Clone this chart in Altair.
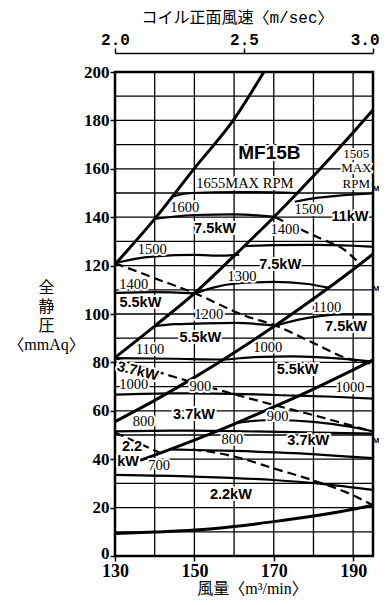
import altair as alt
import pandas as pd

# ---------------- axes / grid ----------------
X_DOMAIN = [130, 195]
Y_DOMAIN = [0, 200]
X_TICKS = [130, 150, 170, 190]
Y_TICKS = [0, 20, 40, 60, 80, 100, 120, 140, 160, 180, 200]
GRID_X = [130, 140, 150, 160, 170, 180, 190]
GRID_Y = [0, 10, 20, 30, 40, 50, 60, 70, 80, 90, 100, 110, 120, 130, 140, 150, 160, 170, 180, 190, 200]
TOP_DOMAIN = [2.0, 3.0]
TOP_TICKS = [2.0, 2.5, 3.0]

# ---------------- system resistance curves (thick) ----------------
SYS_A = [(130, 120.5), (140, 139.3), (150, 160.2), (160, 180.5), (167.5, 200)]
SYS_B = [(130, 82), (140, 95), (150, 108.5), (160, 124), (170, 140), (180, 157), (190, 175), (195, 184.3)]
SYS_C = [(130, 55.5), (140, 64.3), (150, 73.8), (160, 84), (170, 94.8), (180, 106.3), (190, 118.4), (195, 124.8)]
SYS_D = [(136.3, 39.5), (140, 41.7), (150, 47.9), (160, 54.5), (170, 61.6), (180, 69), (190, 76.9), (195, 81)]
SYS_F = [(130, 9.3), (140, 9.9), (150, 10.7), (160, 12.2), (170, 14.2), (180, 16.5), (190, 19.3), (195, 21)]

# ---------------- fan speed curves (solid) ----------------
RPM_1655 = [(144.7, 148.6), (148, 149.8), (155, 150.3), (165, 150.4), (175.8, 150)]
RPM_1505 = [(175.3, 146.4), (180, 147.8), (187, 149), (195, 149.8)]
RPM_1600 = [(140, 139.3), (145, 140.3), (150, 140.9), (160, 141.2), (170.3, 140.1)]
RPM_1500L = [(130, 121), (135, 122.8), (140, 123.8), (150, 124.4), (157, 124.1), (161.3, 124.5)]
RPM_1400R = [(162.5, 128), (170, 128.5), (180, 128.6), (190, 128.2), (195, 127.8)]
RPM_1400L = [(130, 108.7), (140, 109), (150.2, 108.5)]
RPM_1300 = [(150.2, 108.5), (155, 111), (160, 112.5), (170, 113.3), (178, 112.5), (184, 110.8)]
RPM_1200 = [(140, 95), (145, 95.8), (150, 96), (160, 96.3), (170.5, 95.2)]
RPM_1100R = [(170.5, 95.2), (176, 97.6), (182, 99.2), (188, 99.8), (195, 99.8)]
RPM_1100 = [(130, 81.8), (145, 81.5), (157, 81.2), (165, 82.2), (175, 82.5), (185, 81.8), (195, 80.3)]
RPM_1000 = [(130, 66.7), (145, 67.2), (160, 67), (175, 66.3), (185, 65.8), (195, 65)]
RPM_900R = [(160.7, 55), (165, 55.8), (170, 56.2), (180, 55.4), (190, 53.2), (195, 51.5)]
RPM_800L = [(130, 51.5), (145, 51.8), (160, 51.6), (175, 51.2), (195, 50.6)]
RPM_800R = [(143.7, 44), (150, 43.8), (160, 43.4), (175, 42.5), (185, 41.5), (195, 40.4)]
RPM_700 = [(130, 33.5), (150, 32.8), (170, 31.4), (182, 29.8), (195, 27.3)]

# ---------------- motor power limits (dashed) ----------------
PW_1 = [(130, 121), (140, 114.8), (150.2, 108.5), (162.7, 99.3), (170.5, 95.2), (180, 88), (188.8, 81.5), (194.5, 79.5)]
PW_2 = [(170.3, 140), (176.2, 135.4), (182, 131), (187.9, 126.4), (191.5, 121)]
PW_3 = [(130, 81.8), (140, 76.5), (148, 72.5), (156, 68.7), (163, 65.5), (171, 62), (180, 58.2), (188, 54.6), (195, 51.4)]
PW_4A = [(130, 51), (135.5, 47), (141.5, 42.5)]
PW_4B = [(149.5, 44), (155, 42.8), (160.3, 41), (170.4, 36), (181.3, 30.5), (188, 26.5), (195, 21)]

# ---------------- labels ----------------
NUM_TEXT = ["1655MAX RPM", "1600", "1500", "1400", "1300", "1200", "1100", "1000", "1100",
            "1500", "1400", "1000", "900", "1000", "800", "900", "800", "700"]
NUM_X = [162.7, 147.6, 139.4, 134.7, 162, 153.6, 138.8, 168.5, 183.4,
         178.9, 172.8, 134.7, 151.5, 189.2, 137.2, 171, 159.6, 141.1]
NUM_Y = [153.7, 143.7, 126.4, 112, 115.4, 99.6, 85.1, 86, 102.5,
         143, 134.7, 70.5, 70, 69.4, 55.5, 57.6, 48, 37]

MAXRPM_TEXT = ["1505", "MAX", "RPM"]
MAXRPM_X = [190.8, 190.8, 190.8]
MAXRPM_Y = [166.1, 160.2, 153.9]

KW_TEXT = ["7.5kW", "11kW", "7.5kW", "5.5kW", "5.5kW", "7.5kW", "3.7kW", "5.5kW",
           "3.7kW", "3.7kW", "2.2", "kW", "2.2kW"]
KW_X = [155.2, 189.2, 171.6, 136.4, 151.5, 188.2, 135.7, 176, 149.9, 178.7, 134.3, 133.3, 159.2]
KW_Y = [135, 140, 120.2, 104.4, 90, 94.6, 76.2, 76.9, 58.3, 47.5, 45, 39, 25.2]
KW_ANGLE = [0, 0, 0, 0, 0, 0, 14, 0, 0, 0, 0, 0, 0]

MODEL_TEXT = ["MF15B"]
MODEL_X = [168.9]
MODEL_Y = [166.4]

EDGE_TEXT = ["M", "M", "M"]
EDGE_X = [196.6, 196.6, 196.6]
EDGE_Y = [151.5, 110.5, 47.5]

SERIF = "Liberation Serif"
SANS = "Liberation Sans"
MONO = "Liberation Mono"
JP_SERIF = "Liberation Serif, Noto Sans CJK JP"
JP_MONO = "Liberation Mono, Noto Sans CJK JP"


def curves_df(named):
    rows = []
    for name, pts in named.items():
        for i, (x, y) in enumerate(pts):
            rows.append({"name": name, "i": i, "x": x, "y": y})
    return pd.DataFrame(rows)


sys_df = curves_df({"A": SYS_A, "B": SYS_B, "C": SYS_C, "D": SYS_D, "F": SYS_F})
rpm_df = curves_df({"r1655": RPM_1655, "r1505": RPM_1505, "r1600": RPM_1600, "r1500L": RPM_1500L,
                    "r1400R": RPM_1400R, "r1400L": RPM_1400L, "r1300": RPM_1300, "r1200": RPM_1200,
                    "r1100R": RPM_1100R, "r1100": RPM_1100, "r1000": RPM_1000, "r900R": RPM_900R,
                    "r800L": RPM_800L, "r800R": RPM_800R, "r700": RPM_700})
pw_df = curves_df({"p1": PW_1, "p2": PW_2, "p3": PW_3, "p4a": PW_4A, "p4b": PW_4B})

xs = alt.Scale(domain=X_DOMAIN, nice=False, zero=False)
ys = alt.Scale(domain=Y_DOMAIN, nice=False, zero=False)

X_AXIS = alt.Axis(
    orient="bottom", values=X_TICKS, grid=False, domain=False, labelFlush=False,
    tickColor="black", tickSize=5, tickWidth=1.5, labelPadding=1,
    labelFont=SERIF, labelFontSize=18, labelFontWeight="bold", labelColor="black",
    title="風量〈m³/min〉", titleFont=JP_SERIF, titleFontSize=16, titleFontWeight="normal",
    titleColor="black", titleX=137, titleY=32, titleBaseline="middle", titleAlign="center")

Y_AXIS = alt.Axis(
    orient="left", values=Y_TICKS, grid=False, domain=False, labelFlush=False,
    tickColor="black", tickSize=5, tickWidth=1.5, labelPadding=1,
    labelOffset={"condition": {"test": "datum.value == 0", "value": -3}, "value": 0},
    labelFont=SERIF, labelFontSize=17, labelFontWeight="bold", labelColor="black",
    title=["全", "静", "圧", "〈mmAq〉"], titleFont=JP_SERIF, titleFontSize=16,
    titleFontWeight="normal", titleColor="black", titleAngle=0, titleAlign="center",
    titleBaseline="top", titleX=-69, titleY=207, titleLineHeight=19)


def X(field):
    return alt.X(field, scale=xs, axis=X_AXIS)


def Y(field):
    return alt.Y(field, scale=ys, axis=Y_AXIS)


grid_v = alt.Chart(pd.DataFrame({"x": GRID_X})).mark_rule(color="black", strokeWidth=1.3).encode(
    x=X("x:Q"))
grid_h = alt.Chart(pd.DataFrame({"y": GRID_Y})).mark_rule(color="black", strokeWidth=1.3).encode(
    y=Y("y:Q"))


def line_layer(df, width, dash=None):
    kw = dict(interpolate="monotone", color="black", strokeWidth=width)
    if dash:
        kw["strokeDash"] = dash
    return alt.Chart(df).mark_line(**kw).encode(
        x=X("x:Q"), y=Y("y:Q"), detail="name:N", order="i:Q")


def text_layers(texts, xv, yv, font, size, weight, angles=None, align="center", halo=True):
    df = pd.DataFrame({"t": texts, "x": xv, "y": yv,
                       "a": angles if angles is not None else [0] * len(texts)})
    base = alt.Chart(df).encode(
        x=X("x:Q"), y=Y("y:Q"), text="t:N", angle=alt.Angle("a:Q", scale=None))
    out = []
    if halo:
        out.append(base.mark_text(font=font, fontSize=size, fontWeight=weight, align=align,
                                  fill="white", stroke="white", strokeWidth=4, strokeJoin="round"))
    out.append(base.mark_text(font=font, fontSize=size, fontWeight=weight, align=align, color="black"))
    return out


layers = [grid_v, grid_h,
          line_layer(rpm_df, 2.2),
          line_layer(pw_df, 2.2, [9, 5]),
          line_layer(sys_df, 3)]
layers += text_layers(NUM_TEXT, NUM_X, NUM_Y, SERIF, 14.5, "normal")
layers += text_layers(MAXRPM_TEXT, MAXRPM_X, MAXRPM_Y, SERIF, 13, "normal")
layers += text_layers(KW_TEXT, KW_X, KW_Y, SANS, 14.5, "bold", KW_ANGLE)
layers += text_layers(MODEL_TEXT, MODEL_X, MODEL_Y, SANS, 19, "bold")
layers += text_layers(EDGE_TEXT, EDGE_X, EDGE_Y, SANS, 8, "bold", align="right", halo=False)

main = alt.layer(*layers)

LAST = "datum.value >= 2.99"
top = alt.Chart(pd.DataFrame({"v": TOP_TICKS})).mark_point(opacity=0).encode(
    x=alt.X("v:Q", scale=alt.Scale(domain=TOP_DOMAIN, nice=False, zero=False), axis=alt.Axis(
        orient="top", values=TOP_TICKS, format=".1f", offset=19, grid=False, labelFlush=False,
        domain=True, domainColor="black", domainWidth=1.5,
        tickColor="black", tickSize=5, tickWidth=1.5, labelPadding=1,
        labelAlign={"condition": {"test": LAST, "value": "right"}, "value": "center"},
        labelOffset={"condition": {"test": LAST, "value": 6}, "value": 0},
        labelFont=MONO, labelFontSize=16, labelFontWeight="bold", labelColor="black",
        title="コイル正面風速〈m/sec〉", titleFont=JP_MONO, titleFontSize=16,
        titleFontWeight="normal", titleColor="black", titleX=122, titleAlign="center",
        titlePadding=6))
)

chart = alt.layer(main, top).resolve_scale(x="independent").properties(
    width=258, height=484,
    autosize=alt.AutoSizeParams(type="none"),
    padding={"left": 107, "top": 64, "right": 6, "bottom": 41},
    background="white",
).configure_view(stroke="black", strokeWidth=2.5)

chart.save("out.html", embed_options={"renderer": "svg", "actions": False})
